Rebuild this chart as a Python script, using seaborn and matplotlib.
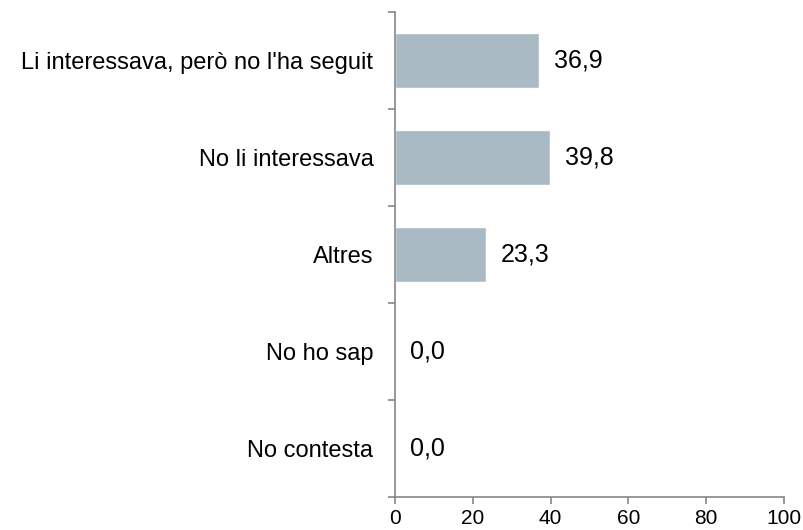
import matplotlib
matplotlib.use("Agg")
import matplotlib.pyplot as plt
import seaborn as sns
import pandas as pd
from matplotlib.ticker import FixedLocator

# --- data ---
categories = [
    "Li interessava, però no l'ha seguit",
    "No li interessava",
    "Altres",
    "No ho sap",
    "No contesta",
]
values = [36.9, 39.8, 23.3, 0.0, 0.0]
x_ticks = [0, 20, 40, 60, 80, 100]

df = pd.DataFrame({"categoria": categories, "valor": values})

sns.set_theme(style="white")
plt.rcParams["font.family"] = ["Liberation Sans", "DejaVu Sans"]

fig = plt.figure(figsize=(8.04, 5.30), dpi=100)
ax = fig.add_axes([395 / 804, 1 - 497 / 530, 389 / 804, 485 / 530])

sns.barplot(data=df, x="valor", y="categoria", orient="h",
            color="#AABAC5", saturation=1, width=0.56, ax=ax)

ax.set_xlim(0, 100)
ax.set_ylim(len(categories) - 0.5, -0.5)
ax.set_xticks(x_ticks)
ax.set_xlabel("")
ax.set_ylabel("")

for side in ["top", "right"]:
    ax.spines[side].set_visible(False)
for side in ["left", "bottom"]:
    ax.spines[side].set_color("#868686")
    ax.spines[side].set_linewidth(1.2)

ax.tick_params(axis="x", which="major", length=5, width=1.2, color="#868686",
               labelsize=15, pad=4, labelcolor="black", bottom=True)
ax.tick_params(axis="y", which="major", length=0, labelsize=17, pad=15.5,
               labelcolor="black")
ax.yaxis.set_minor_locator(FixedLocator([i - 0.5 for i in range(len(categories) + 1)]))
ax.tick_params(axis="y", which="minor", length=5, width=1.2, color="#868686", left=True)

labels = [f"{v:.1f}".replace(".", ",") for v in values]
ax.bar_label(ax.containers[0], labels=labels, padding=11, fontsize=18, color="black")

fig.savefig("out.png", dpi=100)
